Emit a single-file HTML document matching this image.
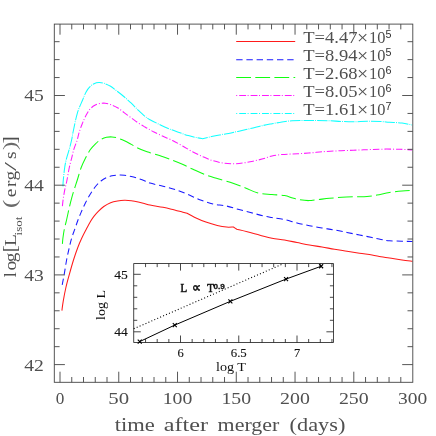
<!DOCTYPE html>
<html><head><meta charset="utf-8"><title>plot</title>
<style>html,body{margin:0;padding:0;background:#fff;}svg{display:block;}text{font-family:"Liberation Serif",serif;}</style>
</head><body>
<svg width="436" height="436" viewBox="0 0 436 436">
<rect x="0" y="0" width="436" height="436" fill="#fff"/>
<defs><filter id="g" x="-5%" y="-5%" width="110%" height="110%" color-interpolation-filters="sRGB"><feColorMatrix type="saturate" values="0"/></filter></defs>
<g fill="none" stroke-width="1.05" stroke-linejoin="round">
<path d="M61.90 310.60 C62.12 309.05 62.53 305.15 63.20 301.30 C63.87 297.45 64.85 292.08 65.90 287.50 C66.95 282.92 68.23 278.38 69.50 273.80 C70.77 269.22 72.12 264.38 73.50 260.00 C74.88 255.62 76.43 251.12 77.80 247.50 C79.17 243.88 80.28 241.35 81.70 238.30 C83.12 235.25 84.82 232.05 86.30 229.20 C87.78 226.35 89.30 223.38 90.60 221.20 C91.90 219.02 92.82 217.75 94.10 216.10 C95.38 214.45 96.68 212.90 98.30 211.30 C99.92 209.70 101.75 207.93 103.80 206.50 C105.85 205.07 108.32 203.67 110.60 202.75 C112.88 201.83 115.20 201.41 117.50 201.00 C119.80 200.59 122.10 200.35 124.40 200.30 C126.70 200.25 129.00 200.43 131.30 200.70 C133.60 200.97 135.92 201.40 138.20 201.90 C140.48 202.40 143.03 203.17 145.00 203.70 C146.97 204.23 147.00 204.50 150.00 205.10 C153.00 205.70 159.42 206.62 163.00 207.30 C166.58 207.98 168.18 208.38 171.50 209.20 C174.82 210.02 180.30 211.52 182.90 212.20 C185.50 212.88 186.40 213.12 187.10 213.30 C188.32 213.95 191.27 215.73 194.40 217.20 C197.53 218.67 202.08 220.72 205.90 222.10 C209.72 223.48 213.87 224.67 217.30 225.50 C220.73 226.33 223.82 226.85 226.50 227.10 C229.18 227.35 232.25 227.02 233.40 227.00 C233.97 227.38 236.23 228.92 236.80 229.30 C238.53 229.72 243.33 230.82 247.20 231.80 C251.07 232.78 255.87 234.12 260.00 235.20 C264.13 236.27 267.92 237.45 272.00 238.25 C276.08 239.05 280.33 239.29 284.50 240.00 C288.67 240.71 292.83 241.67 297.00 242.50 C301.17 243.33 305.33 244.25 309.50 245.00 C313.67 245.75 317.83 246.29 322.00 247.00 C326.17 247.71 330.33 248.54 334.50 249.25 C338.67 249.96 342.83 250.58 347.00 251.25 C351.17 251.92 355.33 252.62 359.50 253.25 C363.67 253.88 368.42 254.42 372.00 255.00 C375.58 255.58 378.08 256.25 381.00 256.75 C383.92 257.25 386.00 257.46 389.50 258.00 C393.00 258.54 398.17 259.46 402.00 260.00 C405.83 260.54 410.75 261.04 412.50 261.25" stroke="#ff1a1a"/>
<path d="M62.20 284.80 C62.55 282.97 63.57 277.93 64.30 273.80 C65.03 269.67 65.77 264.38 66.60 260.00 C67.43 255.62 68.47 251.12 69.30 247.50 C70.13 243.88 70.68 241.35 71.60 238.30 C72.52 235.25 73.73 232.25 74.80 229.20 C75.87 226.15 76.93 222.85 78.00 220.00 C79.07 217.15 79.97 214.95 81.20 212.10 C82.43 209.25 83.90 205.87 85.40 202.90 C86.90 199.93 88.52 197.03 90.20 194.30 C91.88 191.57 93.70 188.72 95.50 186.50 C97.30 184.28 99.17 182.48 101.00 181.00 C102.83 179.52 104.67 178.47 106.50 177.60 C108.33 176.73 110.17 176.22 112.00 175.80 C113.83 175.38 115.43 175.20 117.50 175.10 C119.57 175.00 122.10 174.97 124.40 175.20 C126.70 175.43 129.00 175.95 131.30 176.50 C133.60 177.05 135.92 177.75 138.20 178.50 C140.48 179.25 143.03 180.23 145.00 181.00 C146.97 181.77 147.00 182.22 150.00 183.10 C153.00 183.97 158.75 185.17 163.00 186.25 C167.25 187.33 171.33 188.22 175.50 189.60 C179.67 190.97 183.83 192.77 188.00 194.50 C192.17 196.23 196.33 198.42 200.50 200.00 C204.67 201.58 208.83 203.03 213.00 204.00 C217.17 204.97 221.33 204.93 225.50 205.80 C229.67 206.68 233.83 208.13 238.00 209.25 C242.17 210.37 246.33 211.41 250.50 212.50 C254.67 213.59 259.42 214.97 263.00 215.80 C266.58 216.63 268.42 216.88 272.00 217.50 C275.58 218.12 280.33 218.58 284.50 219.50 C288.67 220.42 292.83 221.96 297.00 223.00 C301.17 224.04 305.33 224.92 309.50 225.75 C313.67 226.58 317.83 227.29 322.00 228.00 C326.17 228.71 330.33 229.25 334.50 230.00 C338.67 230.75 342.83 231.67 347.00 232.50 C351.17 233.33 355.33 234.17 359.50 235.00 C363.67 235.83 368.42 236.75 372.00 237.50 C375.58 238.25 378.08 238.96 381.00 239.50 C383.92 240.04 386.00 240.46 389.50 240.75 C393.00 241.04 398.17 241.12 402.00 241.25 C405.83 241.38 410.75 241.46 412.50 241.50" stroke="#1a1aff" stroke-dasharray="6.4 3.8"/>
<path d="M62.40 243.90 C62.48 242.97 62.58 240.75 62.90 238.30 C63.22 235.85 63.69 232.25 64.30 229.20 C64.91 226.15 65.72 223.62 66.55 220.00 C67.38 216.38 68.46 211.12 69.30 207.50 C70.14 203.88 70.77 201.35 71.60 198.30 C72.43 195.25 73.35 192.25 74.30 189.20 C75.25 186.15 76.15 183.62 77.30 180.00 C78.45 176.38 79.85 171.12 81.20 167.50 C82.55 163.88 83.90 161.25 85.40 158.30 C86.90 155.35 88.52 152.22 90.20 149.80 C91.88 147.38 93.70 145.53 95.50 143.80 C97.30 142.07 99.17 140.48 101.00 139.40 C102.83 138.32 104.67 137.72 106.50 137.30 C108.33 136.88 110.17 136.78 112.00 136.90 C113.83 137.02 115.43 137.37 117.50 138.00 C119.57 138.63 122.10 139.63 124.40 140.70 C126.70 141.77 129.00 143.13 131.30 144.40 C133.60 145.67 135.92 147.18 138.20 148.30 C140.48 149.42 143.03 150.37 145.00 151.10 C146.97 151.83 147.25 151.84 150.00 152.70 C152.75 153.56 157.67 154.97 161.50 156.25 C165.33 157.53 169.42 159.03 173.00 160.40 C176.58 161.78 179.67 163.02 183.00 164.50 C186.33 165.98 189.25 167.58 193.00 169.30 C196.75 171.02 201.33 173.23 205.50 174.80 C209.67 176.38 213.42 177.35 218.00 178.75 C222.58 180.15 228.42 181.66 233.00 183.20 C237.58 184.74 241.33 186.37 245.50 188.00 C249.67 189.63 253.58 191.92 258.00 193.00 C262.42 194.08 267.58 194.07 272.00 194.50 C276.42 194.93 281.04 195.02 284.50 195.60 C287.96 196.18 290.23 197.30 292.75 198.00 C295.27 198.70 296.93 199.37 299.60 199.80 C302.28 200.23 305.73 200.63 308.80 200.60 C311.87 200.57 314.55 199.98 318.00 199.60 C321.45 199.22 325.50 198.69 329.50 198.30 C333.50 197.91 337.83 197.51 342.00 197.25 C346.17 196.99 350.33 196.88 354.50 196.75 C358.67 196.62 363.25 196.79 367.00 196.50 C370.75 196.21 373.25 195.67 377.00 195.00 C380.75 194.33 385.33 193.17 389.50 192.50 C393.67 191.83 398.17 191.33 402.00 191.00 C405.83 190.67 410.75 190.58 412.50 190.50" stroke="#10ff10" stroke-dasharray="14.8 4.3"/>
<path d="M62.40 206.10 C62.55 204.80 62.88 201.12 63.30 198.30 C63.72 195.48 64.28 192.25 64.90 189.20 C65.52 186.15 66.27 183.62 67.00 180.00 C67.73 176.38 68.53 171.12 69.30 167.50 C70.07 163.88 70.83 161.35 71.60 158.30 C72.37 155.25 72.97 152.25 73.90 149.20 C74.83 146.15 76.28 142.95 77.20 140.00 C78.12 137.05 78.50 134.35 79.40 131.50 C80.30 128.65 81.73 125.10 82.60 122.90 C83.47 120.70 83.83 119.90 84.60 118.30 C85.37 116.70 86.27 114.87 87.20 113.30 C88.13 111.73 88.93 110.23 90.20 108.90 C91.47 107.57 93.23 106.18 94.80 105.30 C96.37 104.42 97.88 103.95 99.60 103.60 C101.32 103.25 103.27 103.03 105.10 103.20 C106.93 103.37 108.53 103.84 110.60 104.60 C112.67 105.36 115.20 106.38 117.50 107.75 C119.80 109.12 122.10 111.11 124.40 112.80 C126.70 114.49 129.00 116.22 131.30 117.90 C133.60 119.58 135.92 121.38 138.20 122.90 C140.48 124.42 143.03 125.85 145.00 127.00 C146.97 128.15 148.50 128.97 150.00 129.80 C151.50 130.63 151.83 130.93 154.00 132.00 C156.17 133.07 159.83 134.79 163.00 136.25 C166.17 137.71 169.67 139.08 173.00 140.75 C176.33 142.42 179.67 144.38 183.00 146.25 C186.33 148.12 189.67 150.25 193.00 152.00 C196.33 153.75 199.67 155.29 203.00 156.75 C206.33 158.21 209.67 159.71 213.00 160.75 C216.33 161.79 219.67 162.50 223.00 163.00 C226.33 163.50 229.67 163.75 233.00 163.75 C236.33 163.75 239.67 163.42 243.00 163.00 C246.33 162.58 249.67 161.96 253.00 161.25 C256.33 160.54 259.83 159.62 263.00 158.75 C266.17 157.88 268.83 156.71 272.00 156.00 C275.17 155.29 278.67 154.83 282.00 154.50 C285.33 154.17 288.67 154.17 292.00 154.00 C295.33 153.83 298.67 153.71 302.00 153.50 C305.33 153.29 308.67 153.04 312.00 152.75 C315.33 152.46 318.25 152.04 322.00 151.75 C325.75 151.46 330.33 151.21 334.50 151.00 C338.67 150.79 342.83 150.67 347.00 150.50 C351.17 150.33 355.33 150.17 359.50 150.00 C363.67 149.83 367.50 149.65 372.00 149.50 C376.50 149.35 381.83 149.13 386.50 149.10 C391.17 149.07 395.75 149.17 400.00 149.30 C404.25 149.43 410.00 149.80 412.00 149.90" stroke="#ff1aff" stroke-dasharray="6.5 2 1 2"/>
<path d="M62.90 186.40 C62.97 185.33 63.00 183.15 63.30 180.00 C63.60 176.85 64.16 171.12 64.70 167.50 C65.24 163.88 65.78 161.35 66.55 158.30 C67.32 155.25 68.46 152.25 69.30 149.20 C70.14 146.15 70.95 142.95 71.60 140.00 C72.25 137.05 72.25 135.95 73.20 131.50 C74.15 127.05 75.73 118.55 77.30 113.30 C78.87 108.05 81.13 103.57 82.60 100.00 C84.07 96.43 84.87 94.12 86.10 91.90 C87.33 89.68 88.67 88.07 90.00 86.70 C91.33 85.33 92.62 84.38 94.10 83.70 C95.58 83.02 97.28 82.67 98.90 82.60 C100.52 82.53 101.85 82.68 103.80 83.30 C105.75 83.92 108.32 84.93 110.60 86.30 C112.88 87.67 115.20 89.72 117.50 91.50 C119.80 93.28 122.10 95.05 124.40 97.00 C126.70 98.95 129.00 101.02 131.30 103.20 C133.60 105.38 135.92 107.92 138.20 110.10 C140.48 112.28 143.03 114.70 145.00 116.30 C146.97 117.90 147.25 118.17 150.00 119.70 C152.75 121.23 158.17 123.92 161.50 125.50 C164.83 127.08 167.05 128.03 170.00 129.20 C172.95 130.37 176.15 131.43 179.20 132.50 C182.25 133.57 185.25 134.72 188.30 135.60 C191.35 136.48 195.12 137.28 197.50 137.80 C199.88 138.32 201.75 138.55 202.60 138.70 C203.90 138.40 207.58 137.53 210.40 136.90 C213.22 136.27 216.45 135.48 219.50 134.90 C222.55 134.32 225.63 133.98 228.70 133.40 C231.77 132.82 234.27 132.20 237.90 131.40 C241.53 130.60 246.32 129.58 250.50 128.60 C254.68 127.62 259.42 126.31 263.00 125.50 C266.58 124.69 268.83 124.33 272.00 123.75 C275.17 123.17 278.67 122.50 282.00 122.00 C285.33 121.50 288.25 121.00 292.00 120.75 C295.75 120.50 300.33 120.54 304.50 120.50 C308.67 120.46 312.83 120.46 317.00 120.50 C321.17 120.54 325.33 120.58 329.50 120.75 C333.67 120.92 337.83 121.33 342.00 121.50 C346.17 121.67 350.33 121.79 354.50 121.75 C358.67 121.71 362.58 121.29 367.00 121.25 C371.42 121.21 377.25 121.33 381.00 121.50 C384.75 121.67 386.00 122.00 389.50 122.25 C393.00 122.50 398.25 122.54 402.00 123.00 C405.75 123.46 410.33 124.67 412.00 125.00" stroke="#10ffff" stroke-dasharray="10.4 1.1 0.9 1.1"/>
</g>
<g fill="none" stroke="#444" stroke-width="0.90">
<rect x="54.30" y="24.10" width="358.50" height="358.20"/>
<path d="M60.00 382.30 L60.00 371.70 M60.00 24.10 L60.00 34.70 M71.75 382.30 L71.75 377.00 M71.75 24.10 L71.75 29.40 M83.50 382.30 L83.50 377.00 M83.50 24.10 L83.50 29.40 M95.26 382.30 L95.26 377.00 M95.26 24.10 L95.26 29.40 M107.01 382.30 L107.01 377.00 M107.01 24.10 L107.01 29.40 M118.76 382.30 L118.76 371.70 M118.76 24.10 L118.76 34.70 M130.51 382.30 L130.51 377.00 M130.51 24.10 L130.51 29.40 M142.26 382.30 L142.26 377.00 M142.26 24.10 L142.26 29.40 M154.02 382.30 L154.02 377.00 M154.02 24.10 L154.02 29.40 M165.77 382.30 L165.77 377.00 M165.77 24.10 L165.77 29.40 M177.52 382.30 L177.52 371.70 M177.52 24.10 L177.52 34.70 M189.27 382.30 L189.27 377.00 M189.27 24.10 L189.27 29.40 M201.02 382.30 L201.02 377.00 M201.02 24.10 L201.02 29.40 M212.78 382.30 L212.78 377.00 M212.78 24.10 L212.78 29.40 M224.53 382.30 L224.53 377.00 M224.53 24.10 L224.53 29.40 M236.28 382.30 L236.28 371.70 M236.28 24.10 L236.28 34.70 M248.03 382.30 L248.03 377.00 M248.03 24.10 L248.03 29.40 M259.78 382.30 L259.78 377.00 M259.78 24.10 L259.78 29.40 M271.54 382.30 L271.54 377.00 M271.54 24.10 L271.54 29.40 M283.29 382.30 L283.29 377.00 M283.29 24.10 L283.29 29.40 M295.04 382.30 L295.04 371.70 M295.04 24.10 L295.04 34.70 M306.79 382.30 L306.79 377.00 M306.79 24.10 L306.79 29.40 M318.54 382.30 L318.54 377.00 M318.54 24.10 L318.54 29.40 M330.30 382.30 L330.30 377.00 M330.30 24.10 L330.30 29.40 M342.05 382.30 L342.05 377.00 M342.05 24.10 L342.05 29.40 M353.80 382.30 L353.80 371.70 M353.80 24.10 L353.80 34.70 M365.55 382.30 L365.55 377.00 M365.55 24.10 L365.55 29.40 M377.30 382.30 L377.30 377.00 M377.30 24.10 L377.30 29.40 M389.06 382.30 L389.06 377.00 M389.06 24.10 L389.06 29.40 M400.81 382.30 L400.81 377.00 M400.81 24.10 L400.81 29.40 M54.30 364.60 L64.90 364.60 M412.80 364.60 L402.20 364.60 M54.30 346.66 L59.60 346.66 M412.80 346.66 L407.50 346.66 M54.30 328.72 L59.60 328.72 M412.80 328.72 L407.50 328.72 M54.30 310.78 L59.60 310.78 M412.80 310.78 L407.50 310.78 M54.30 292.84 L59.60 292.84 M412.80 292.84 L407.50 292.84 M54.30 274.90 L64.90 274.90 M412.80 274.90 L402.20 274.90 M54.30 256.96 L59.60 256.96 M412.80 256.96 L407.50 256.96 M54.30 239.02 L59.60 239.02 M412.80 239.02 L407.50 239.02 M54.30 221.08 L59.60 221.08 M412.80 221.08 L407.50 221.08 M54.30 203.14 L59.60 203.14 M412.80 203.14 L407.50 203.14 M54.30 185.20 L64.90 185.20 M412.80 185.20 L402.20 185.20 M54.30 167.26 L59.60 167.26 M412.80 167.26 L407.50 167.26 M54.30 149.32 L59.60 149.32 M412.80 149.32 L407.50 149.32 M54.30 131.38 L59.60 131.38 M412.80 131.38 L407.50 131.38 M54.30 113.44 L59.60 113.44 M412.80 113.44 L407.50 113.44 M54.30 95.50 L64.90 95.50 M412.80 95.50 L402.20 95.50 M54.30 77.56 L59.60 77.56 M412.80 77.56 L407.50 77.56 M54.30 59.62 L59.60 59.62 M412.80 59.62 L407.50 59.62 M54.30 41.68 L59.60 41.68 M412.80 41.68 L407.50 41.68"/>
</g>
<g fill="none" stroke-width="1.05">
<path d="M236.20 41.50 L295.20 41.50" stroke="#ff1a1a"/>
<path d="M236.20 59.70 L295.20 59.70" stroke="#1a1aff" stroke-dasharray="6.4 3.8"/>
<path d="M236.20 77.50 L295.20 77.50" stroke="#10ff10" stroke-dasharray="14.8 4.3"/>
<path d="M236.20 95.50 L295.20 95.50" stroke="#ff1aff" stroke-dasharray="1 2.0 6.9 1.5"/>
<path d="M236.20 113.50 L295.20 113.50" stroke="#10ffff" stroke-dasharray="1 2.0 6.9 1.5"/>
</g>
<g filter="url(#g)" fill="#505050">
<text x="303.3" y="42.80" font-size="16" textLength="54.2" lengthAdjust="spacingAndGlyphs">T=4.47</text>
<text x="357.0" y="43.80" font-size="19.5" textLength="11.2" lengthAdjust="spacingAndGlyphs">×</text>
<text x="369.0" y="42.80" font-size="16" textLength="16.4" lengthAdjust="spacingAndGlyphs">10</text>
<text x="385.4" y="38.00" font-size="10.2" fill="#333" textLength="6" lengthAdjust="spacingAndGlyphs" style="font-family:'Liberation Sans',sans-serif">5</text>
<text x="303.3" y="61.00" font-size="16" textLength="54.2" lengthAdjust="spacingAndGlyphs">T=8.94</text>
<text x="357.0" y="62.00" font-size="19.5" textLength="11.2" lengthAdjust="spacingAndGlyphs">×</text>
<text x="369.0" y="61.00" font-size="16" textLength="16.4" lengthAdjust="spacingAndGlyphs">10</text>
<text x="385.4" y="56.20" font-size="10.2" fill="#333" textLength="6" lengthAdjust="spacingAndGlyphs" style="font-family:'Liberation Sans',sans-serif">5</text>
<text x="303.3" y="78.80" font-size="16" textLength="54.2" lengthAdjust="spacingAndGlyphs">T=2.68</text>
<text x="357.0" y="79.80" font-size="19.5" textLength="11.2" lengthAdjust="spacingAndGlyphs">×</text>
<text x="369.0" y="78.80" font-size="16" textLength="16.4" lengthAdjust="spacingAndGlyphs">10</text>
<text x="385.4" y="74.00" font-size="10.2" fill="#333" textLength="6" lengthAdjust="spacingAndGlyphs" style="font-family:'Liberation Sans',sans-serif">6</text>
<text x="303.3" y="96.80" font-size="16" textLength="54.2" lengthAdjust="spacingAndGlyphs">T=8.05</text>
<text x="357.0" y="97.80" font-size="19.5" textLength="11.2" lengthAdjust="spacingAndGlyphs">×</text>
<text x="369.0" y="96.80" font-size="16" textLength="16.4" lengthAdjust="spacingAndGlyphs">10</text>
<text x="385.4" y="92.00" font-size="10.2" fill="#333" textLength="6" lengthAdjust="spacingAndGlyphs" style="font-family:'Liberation Sans',sans-serif">6</text>
<text x="303.3" y="114.80" font-size="16" textLength="54.2" lengthAdjust="spacingAndGlyphs">T=1.61</text>
<text x="357.0" y="115.80" font-size="19.5" textLength="11.2" lengthAdjust="spacingAndGlyphs">×</text>
<text x="369.0" y="114.80" font-size="16" textLength="16.4" lengthAdjust="spacingAndGlyphs">10</text>
<text x="385.4" y="110.00" font-size="10.2" fill="#333" textLength="6" lengthAdjust="spacingAndGlyphs" style="font-family:'Liberation Sans',sans-serif">7</text>
</g>
<g filter="url(#g)" fill="#505050" font-size="17.4">
<text x="60.00" y="403.80" text-anchor="middle" textLength="8.6" lengthAdjust="spacingAndGlyphs">0</text>
<text x="118.76" y="403.80" text-anchor="middle" textLength="20.8" lengthAdjust="spacingAndGlyphs">50</text>
<text x="177.52" y="403.80" text-anchor="middle" textLength="29.6" lengthAdjust="spacingAndGlyphs">100</text>
<text x="236.28" y="403.80" text-anchor="middle" textLength="29.6" lengthAdjust="spacingAndGlyphs">150</text>
<text x="295.04" y="403.80" text-anchor="middle" textLength="29.8" lengthAdjust="spacingAndGlyphs">200</text>
<text x="353.80" y="403.80" text-anchor="middle" textLength="29.8" lengthAdjust="spacingAndGlyphs">250</text>
<text x="412.56" y="403.80" text-anchor="middle" textLength="29.2" lengthAdjust="spacingAndGlyphs">300</text>
<text x="34.00" y="370.50" text-anchor="middle" textLength="19.6" lengthAdjust="spacingAndGlyphs">42</text>
<text x="34.00" y="280.80" text-anchor="middle" textLength="19.6" lengthAdjust="spacingAndGlyphs">43</text>
<text x="34.00" y="191.10" text-anchor="middle" textLength="19.6" lengthAdjust="spacingAndGlyphs">44</text>
<text x="34.00" y="101.40" text-anchor="middle" textLength="19.6" lengthAdjust="spacingAndGlyphs">45</text>
<text x="114.80" y="430.70" font-size="19" textLength="40.0" lengthAdjust="spacingAndGlyphs">time</text>
<text x="163.70" y="430.70" font-size="19" textLength="44.3" lengthAdjust="spacingAndGlyphs">after</text>
<text x="217.60" y="430.70" font-size="19" textLength="61.7" lengthAdjust="spacingAndGlyphs">merger</text>
<text x="289.60" y="430.70" font-size="19" textLength="55.8" lengthAdjust="spacingAndGlyphs">(days)</text>
</g>
<g filter="url(#g)"><g fill="#505050" transform="rotate(-90)">
<text transform="scale(1.100,1)" x="-252.36" y="15.80" font-size="17.6">l</text>
<text transform="scale(1.100,1)" x="-246.00" y="15.80" font-size="17.6">o</text>
<text transform="scale(1.100,1)" x="-238.45" y="15.80" font-size="17.6">g</text>
<text transform="scale(1.150,1)" x="-219.48" y="15.80" font-size="19.3">[</text>
<text transform="scale(1.100,1)" x="-223.64" y="15.80" font-size="17.6">L</text>
<text x="-235.40" y="21.60" font-size="10.5" textLength="18.8" lengthAdjust="spacingAndGlyphs">isot</text>
<text transform="scale(1.300,1)" x="-159.92" y="15.80" font-size="19.3" fill="#6a6a6a">(</text>
<text transform="scale(1.100,1)" x="-179.27" y="15.80" font-size="17.6">e</text>
<text transform="scale(1.100,1)" x="-170.00" y="15.80" font-size="17.6">r</text>
<text transform="scale(1.100,1)" x="-164.00" y="15.80" font-size="17.6">g</text>
<text transform="scale(1.850,1)" x="-92.38" y="15.80" font-size="17.5">/</text>
<text transform="scale(1.100,1)" x="-144.45" y="15.80" font-size="17.6">s</text>
<text transform="scale(1.300,1)" x="-115.38" y="15.80" font-size="19.3" fill="#6a6a6a">)</text>
<text transform="scale(1.150,1)" x="-124.70" y="15.80" font-size="19.3">]</text>
</g></g>
<g fill="none" stroke="#1a1a1a" stroke-width="0.8">
<rect x="133.75" y="263.60" width="199.65" height="78.90"/>
<path d="M145.55 342.50 L145.55 339.00 M145.55 263.60 L145.55 267.10 M157.20 342.50 L157.20 339.00 M157.20 263.60 L157.20 267.10 M168.85 342.50 L168.85 339.00 M168.85 263.60 L168.85 267.10 M180.50 342.50 L180.50 335.50 M180.50 263.60 L180.50 270.60 M192.15 342.50 L192.15 339.00 M192.15 263.60 L192.15 267.10 M203.80 342.50 L203.80 339.00 M203.80 263.60 L203.80 267.10 M215.45 342.50 L215.45 339.00 M215.45 263.60 L215.45 267.10 M227.10 342.50 L227.10 339.00 M227.10 263.60 L227.10 267.10 M238.75 342.50 L238.75 335.50 M238.75 263.60 L238.75 270.60 M250.40 342.50 L250.40 339.00 M250.40 263.60 L250.40 267.10 M262.05 342.50 L262.05 339.00 M262.05 263.60 L262.05 267.10 M273.70 342.50 L273.70 339.00 M273.70 263.60 L273.70 267.10 M285.35 342.50 L285.35 339.00 M285.35 263.60 L285.35 267.10 M297.00 342.50 L297.00 335.50 M297.00 263.60 L297.00 270.60 M308.65 342.50 L308.65 339.00 M308.65 263.60 L308.65 267.10 M320.30 342.50 L320.30 339.00 M320.30 263.60 L320.30 267.10 M331.95 342.50 L331.95 339.00 M331.95 263.60 L331.95 267.10 M133.75 331.80 L140.75 331.80 M333.40 331.80 L326.40 331.80 M133.75 320.30 L137.25 320.30 M333.40 320.30 L329.90 320.30 M133.75 308.80 L137.25 308.80 M333.40 308.80 L329.90 308.80 M133.75 297.30 L137.25 297.30 M333.40 297.30 L329.90 297.30 M133.75 285.80 L137.25 285.80 M333.40 285.80 L329.90 285.80 M133.75 274.30 L140.75 274.30 M333.40 274.30 L326.40 274.30"/>
</g>
<path d="M139.73 341.58 L174.79 325.07 L230.36 301.32 L286.05 279.07 L321.12 266.25" fill="none" stroke="#000" stroke-width="1.0"/>
<path d="M137.73 339.58 L141.73 343.58 M137.73 343.58 L141.73 339.58 M172.79 323.07 L176.79 327.07 M172.79 327.07 L176.79 323.07 M228.36 299.32 L232.36 303.32 M228.36 303.32 L232.36 299.32 M284.05 277.07 L288.05 281.07 M284.05 281.07 L288.05 277.07 M319.12 264.25 L323.12 268.25 M319.12 268.25 L323.12 264.25" fill="none" stroke="#000" stroke-width="1.1"/>
<path d="M133.75 328.75 L283.00 263.90" fill="none" stroke="#000" stroke-width="1.1" stroke-dasharray="1 2.2"/>
<g filter="url(#g)" fill="#111" stroke="#111" stroke-width="0.12" font-size="12.5">
<text x="180.50" y="357" text-anchor="middle">6</text>
<text x="238.75" y="357.00" text-anchor="middle" textLength="16.0" lengthAdjust="spacingAndGlyphs">6.5</text>
<text x="297.00" y="357" text-anchor="middle">7</text>
<text x="121.00" y="278.60" text-anchor="middle" textLength="13.6" lengthAdjust="spacingAndGlyphs">45</text>
<text x="121.00" y="336.10" text-anchor="middle" textLength="13.6" lengthAdjust="spacingAndGlyphs">44</text>
<text x="231.00" y="370.80" text-anchor="middle" font-size="11.8" textLength="30.0" lengthAdjust="spacingAndGlyphs" stroke="none">log T</text>
<text transform="translate(104.8,305.0) rotate(-90)" text-anchor="middle" stroke="none" font-size="11.8" textLength="30" lengthAdjust="spacingAndGlyphs">log L</text>
</g>
<g filter="url(#g)" fill="#111" stroke="#111" stroke-width="0.6">
<text x="180.60" y="292.00" font-size="12.3" textLength="6.6" lengthAdjust="spacingAndGlyphs">L</text>
<text x="192.30" y="292.30" font-size="14" textLength="9.0" lengthAdjust="spacingAndGlyphs">∝</text>
<text x="207.20" y="292.00" font-size="12.3" textLength="6.6" lengthAdjust="spacingAndGlyphs">T</text>
<text x="213.6" y="288.8" font-size="7.6" stroke-width="0.3" textLength="11.3" lengthAdjust="spacingAndGlyphs" style="font-family:'Liberation Sans',sans-serif;font-weight:bold">0.9</text>
</g>
</svg>
</body></html>
